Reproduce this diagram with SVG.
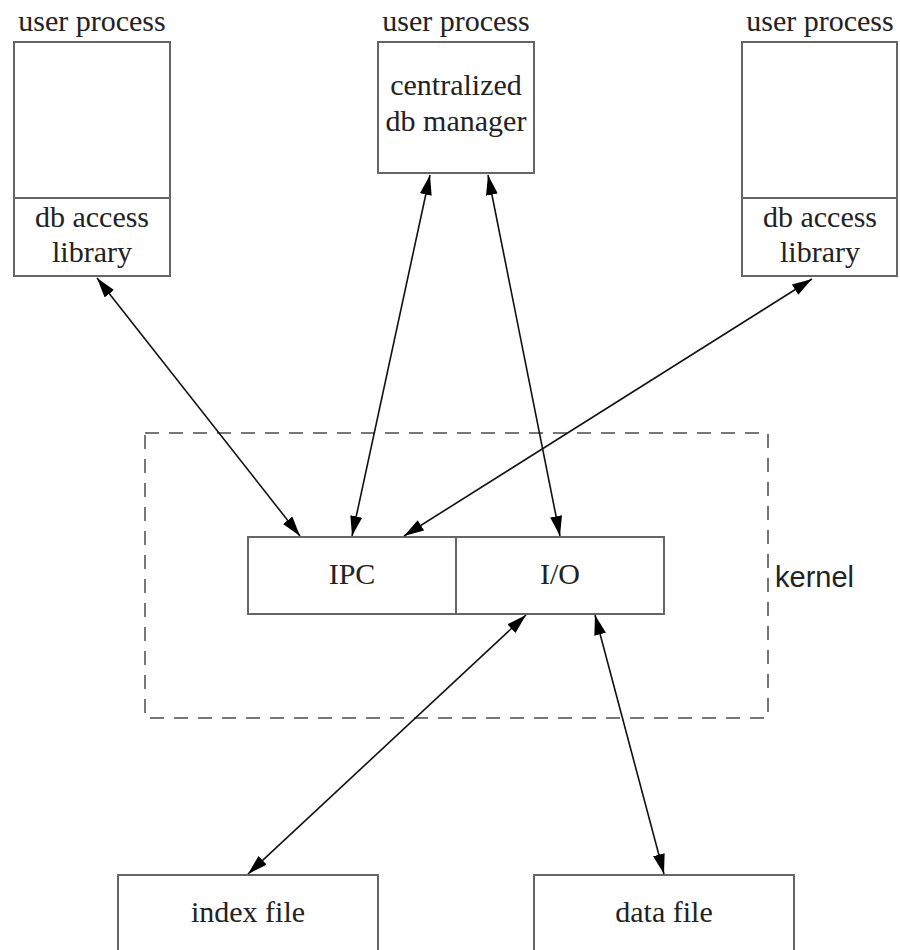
<svg xmlns="http://www.w3.org/2000/svg" width="900" height="950" viewBox="0 0 900 950">
<style>
.box{fill:#fff;stroke:#666;stroke-width:2}
.div{stroke:#666;stroke-width:2}
.t{font-family:"Liberation Serif","Times New Roman",serif;font-size:30px;fill:#222;text-anchor:middle}
.k{font-family:"Liberation Sans",Arial,sans-serif;font-size:29px;fill:#222}
.c{stroke:#111;stroke-width:1.6;fill:none;marker-start:url(#ah);marker-end:url(#ah)}
</style>
<defs>
<marker id="ah" viewBox="0 0 20 12" refX="20" refY="6" markerWidth="20" markerHeight="12" markerUnits="userSpaceOnUse" orient="auto-start-reverse">
<path d="M0,0 L20,6 L0,12 Z" fill="#000"/>
</marker>
</defs>
<rect width="900" height="950" fill="#fff"/>
<g id="kernel">
<rect x="145" y="433" width="623" height="285" fill="none" stroke="#777" stroke-width="2" stroke-dasharray="14,10"/>
<text class="k" x="775" y="587">kernel</text>
</g>
<g id="proc-left">
<text class="t" x="92" y="31">user process</text>
<rect class="box" x="14" y="42" width="156" height="234"/>
<line class="div" x1="14" y1="198" x2="170" y2="198"/>
<text class="t" x="92" y="227">db access</text>
<text class="t" x="92" y="262">library</text>
</g>
<g id="proc-center">
<text class="t" x="456" y="31">user process</text>
<rect class="box" x="378" y="42" width="156" height="131"/>
<text class="t" x="456" y="95">centralized</text>
<text class="t" x="456" y="131">db manager</text>
</g>
<g id="proc-right">
<text class="t" x="820" y="31">user process</text>
<rect class="box" x="742" y="42" width="155" height="234"/>
<line class="div" x1="742" y1="198" x2="897" y2="198"/>
<text class="t" x="820" y="227">db access</text>
<text class="t" x="820" y="262">library</text>
</g>
<g id="ipc-io">
<rect class="box" x="248" y="537" width="416" height="77"/>
<line class="div" x1="456" y1="537" x2="456" y2="614"/>
<text class="t" x="352" y="584">IPC</text>
<text class="t" x="560" y="584">I/O</text>
</g>
<g id="index-file">
<rect class="box" x="118" y="875" width="260" height="90"/>
<text class="t" x="248" y="922">index file</text>
</g>
<g id="data-file">
<rect class="box" x="534" y="875" width="260" height="90"/>
<text class="t" x="664" y="922">data file</text>
</g>
<g id="connectors">
<line class="c" x1="97" y1="278" x2="300" y2="536"/>
<line class="c" x1="430" y1="175" x2="352" y2="536"/>
<line class="c" x1="488" y1="175" x2="560" y2="536"/>
<line class="c" x1="812" y1="279" x2="404" y2="536"/>
<line class="c" x1="526" y1="615" x2="248" y2="874"/>
<line class="c" x1="595" y1="615" x2="664" y2="874"/>
</g>
</svg>
